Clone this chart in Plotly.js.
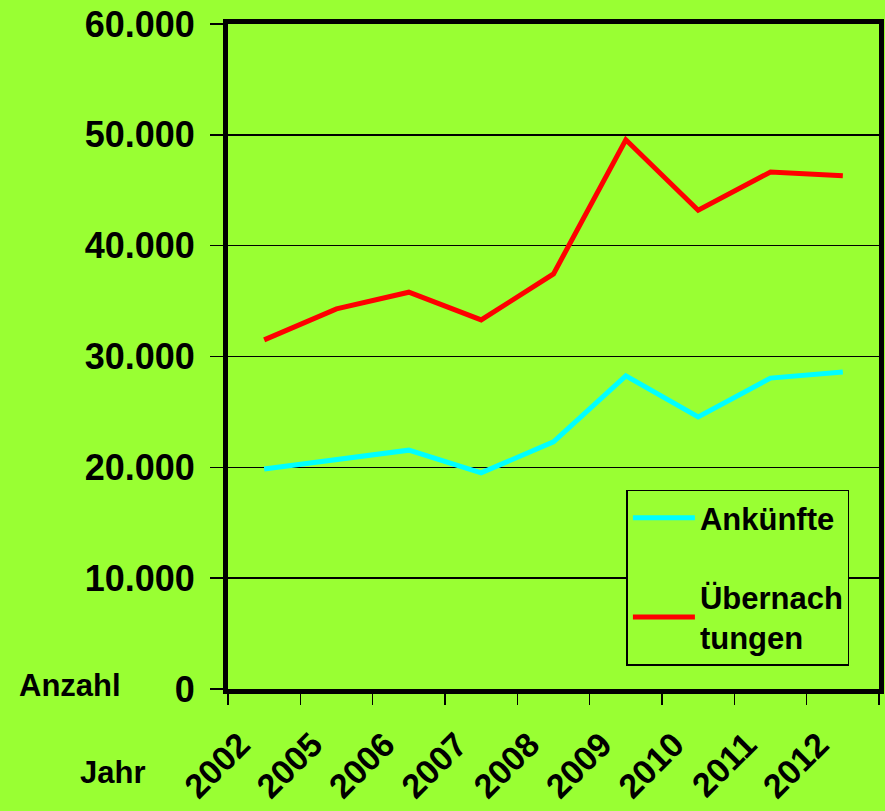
<!DOCTYPE html>
<html>
<head>
<meta charset="utf-8">
<script src="https://cdn.plot.ly/plotly-3.0.1.min.js"></script>
<style>
html,body{margin:0;padding:0;background:#99FF33;}
#chart{width:885px;height:811px;}
</style>
</head>
<body>
<div id="chart"></div>
<script>
const years = ["2002","2005","2006","2007","2008","2009","2010","2011","2012"];
const ankuenfte = [19850, 20650, 21550, 19500, 22300, 28250, 24550, 28050, 28600];
const uebernachtungen = [31500, 34300, 35800, 33300, 37450, 49550, 43200, 46650, 46300];
const seriesNames = ["Ankünfte", "Übernach<br>tungen"];
const yTicks = [0, 10000, 20000, 30000, 40000, 50000, 60000];

const FONT = "Liberation Sans, Arial, sans-serif";
const BG = "#99FF33";

const traces = [
  {x: years, y: ankuenfte, name: seriesNames[0], type: "scatter", mode: "lines",
   line: {color: "#00FFFF", width: 5}, legendgroup: "a"},
  {x: years, y: uebernachtungen, name: seriesNames[1], type: "scatter", mode: "lines",
   line: {color: "#FF0000", width: 5}, legendgroup: "b"}
];

const layout = {
  width: 885, height: 811,
  paper_bgcolor: BG, plot_bgcolor: BG,
  separators: ",.",
  margin: {l: 228, r: 6, t: 24, b: 122},
  font: {family: FONT, color: "#000", weight: "bold"},
  showlegend: true,
  legend: {
    x: 0.612, y: 0.30, xanchor: "left", yanchor: "top",
    bgcolor: BG, bordercolor: "#000", borderwidth: 1.5,
    font: {family: FONT, size: 31, weight: "bold", color: "#000"},
    traceorder: "grouped", tracegroupgap: 36, itemwidth: 62
  },
  xaxis: {
    type: "category", categoryorder: "array", categoryarray: years,
    tickson: "boundaries", ticks: "outside", ticklen: 11, tickwidth: 1.5, tickcolor: "#000",
    showline: true, linewidth: 5, linecolor: "#000", mirror: true,
    showgrid: false, zeroline: false,
    tickangle: -45, ticklabelstandoff: 17, ticklabelshift: -24,
    tickfont: {family: FONT, size: 34, weight: "bold", color: "#000"},
    range: [-0.5, 8.5]
  },
  yaxis: {
    range: [0, 60000], tickvals: yTicks, tickformat: ",d",
    ticks: "outside", ticklen: 13, tickwidth: 1.5, tickcolor: "#000",
    ticklabelstandoff: 8,
    showline: true, linewidth: 5, linecolor: "#000", mirror: true,
    showgrid: true, gridcolor: "#000", gridwidth: 1.5, zeroline: false,
    tickfont: {family: FONT, size: 36, weight: "bold", color: "#000"}
  },
  annotations: [
    {text: "Anzahl", xref: "paper", yref: "paper", x: -0.242, y: 0.006,
     xanchor: "center", yanchor: "middle", showarrow: false,
     font: {family: FONT, size: 31, weight: "bold", color: "#000"}},
    {text: "Jahr", xref: "paper", yref: "paper", x: -0.178, y: -0.126,
     xanchor: "center", yanchor: "middle", showarrow: false,
     font: {family: FONT, size: 31, weight: "bold", color: "#000"}}
  ]
};

Plotly.newPlot("chart", traces, layout, {displayModeBar: false, staticPlot: true});
</script>
</body>
</html>
